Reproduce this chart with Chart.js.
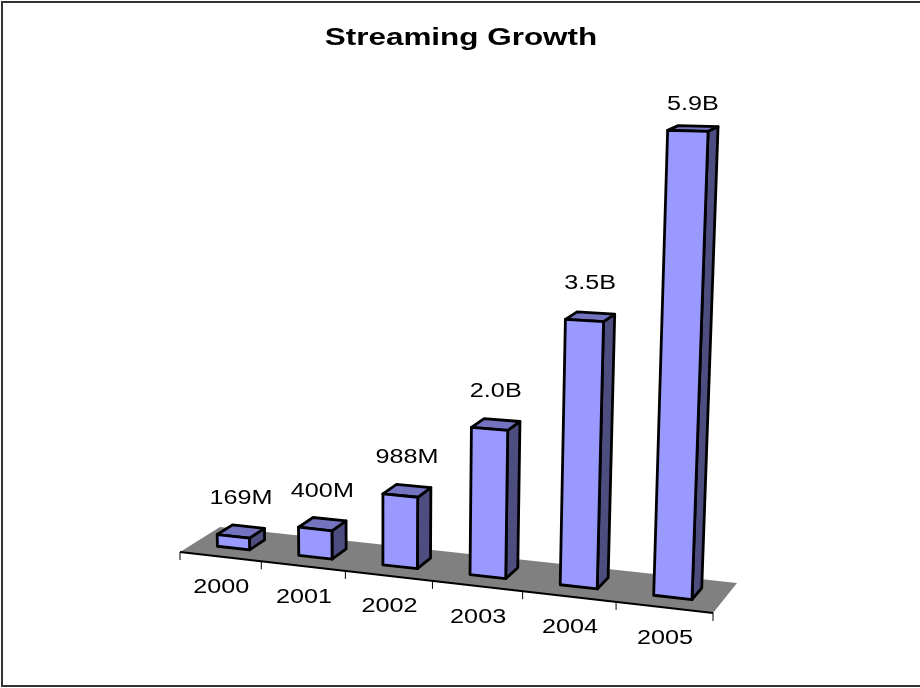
<!DOCTYPE html>
<html lang="en">
  <head>
    <meta charset="UTF-8">
    <title>Streaming Growth</title>
    <script src="https://cdn.jsdelivr.net/npm/chart.js@4"></script>
    <style>
      html, body { margin: 0; padding: 0; background: #fff; }
      #wrap { position: relative; width: 920px; height: 688px; }
    </style>
  </head>
  <body>
    <div id="wrap"><canvas id="chart"></canvas></div>
    <script type="text/javascript">
      const chartTitle = 'Streaming Growth'
      const years = ['2000', '2001', '2002', '2003', '2004', '2005']
      const streams = [169, 400, 988, 2000, 3500, 5900]
      const streamLabels = ['169M', '400M', '988M', '2.0B', '3.5B', '5.9B']

      // camera: floor corners on the canvas plus the point verticals converge to
      const floorFL = [180, 552], floorFR = [713, 613], floorBR = [737, 583], floorBL = [220, 527]
      const vanishX = 385, vanishY = 9537, rise = -0.0464
      const barFront = 0.33, barBack = 0.72

      const sx = floorFL[0] - floorFR[0] + floorBR[0] - floorBL[0]
      const sy = floorFL[1] - floorFR[1] + floorBR[1] - floorBL[1]
      const dx1 = floorFR[0] - floorBR[0], dx2 = floorBL[0] - floorBR[0]
      const dy1 = floorFR[1] - floorBR[1], dy2 = floorBL[1] - floorBR[1]
      const den = dx1 * dy2 - dx2 * dy1
      const g = (sx * dy2 - dx2 * sy) / den
      const h = (dx1 * sy - sx * dy1) / den

      // u: along the category axis, v: into the floor, z: up the value axis, all 0..1
      function project(u, v, z) {
        const a = floorFR[0] - floorFL[0] + g * floorFR[0]
        const b = floorBL[0] - floorFL[0] + h * floorBL[0]
        const d = floorFR[1] - floorFL[1] + g * floorFR[1]
        const e = floorBL[1] - floorFL[1] + h * floorBL[1]
        const w = g * u + h * v + 1 + z * rise
        return [
          (a * u + b * v + floorFL[0] + z * rise * vanishX) / w,
          (d * u + e * v + floorFL[1] + z * rise * vanishY) / w
        ]
      }

      function face(ctx, pts, fill) {
        ctx.beginPath()
        pts.forEach((p, i) => i ? ctx.lineTo(p[0], p[1]) : ctx.moveTo(p[0], p[1]))
        ctx.closePath()
        if (fill) {
          ctx.fillStyle = fill
          ctx.fill()
        }
        ctx.stroke()
      }

      // Excel-style text runs wide, so scale it horizontally around its centre
      function wideText(ctx, text, x, y, font, stretch) {
        ctx.save()
        ctx.translate(x, y)
        ctx.scale(stretch, 1)
        ctx.font = font
        ctx.fillStyle = '#000'
        ctx.textAlign = 'center'
        ctx.textBaseline = 'middle'
        ctx.fillText(text, 0, 0)
        ctx.restore()
      }

      const perspectiveBars = {
        id: 'perspectiveBars',
        beforeDatasetsDraw(chart) {
          const ctx = chart.ctx
          const xs = chart.scales.x
          const u = px => (px - xs.left) / xs.width

          ctx.save()
          ctx.fillStyle = '#808080'
          ctx.beginPath()
          ;[floorFL, floorFR, floorBR, floorBL].forEach(p => ctx.lineTo(p[0], p[1]))
          ctx.closePath()
          ctx.fill()

          ctx.strokeStyle = '#000'
          ctx.lineWidth = 2
          ctx.beginPath()
          ctx.moveTo(floorFL[0], floorFL[1])
          ctx.lineTo(floorFR[0], floorFR[1])
          ctx.stroke()

          ctx.lineWidth = 1
          for (let i = 0; i <= years.length; i++) {
            const p = project(u(xs.getPixelForValue(i - 0.5)), 0, 0)
            ctx.beginPath()
            ctx.moveTo(p[0], p[1])
            ctx.lineTo(p[0], p[1] + 8)
            ctx.stroke()
          }
          ctx.restore()
        },
        beforeDatasetDraw(chart, args) {
          const ctx = chart.ctx
          const xs = chart.scales.x
          const ys = chart.scales.y
          const ds = chart.data.datasets[args.index]
          ctx.save()
          ctx.lineWidth = 2.8
          ctx.lineJoin = 'round'
          ctx.strokeStyle = ds.borderColor
          args.meta.data.forEach((bar, i) => {
            const u0 = (bar.x - bar.width / 2 - xs.left) / xs.width
            const u1 = (bar.x + bar.width / 2 - xs.left) / xs.width
            const z = (bar.base - bar.y) / ys.height
            face(ctx, [project(u1, barFront, 0), project(u1, barBack, 0), project(u1, barBack, z), project(u1, barFront, z)], ds.sideColor)
            face(ctx, [project(u0, barFront, z), project(u1, barFront, z), project(u1, barBack, z), project(u0, barBack, z)], ds.topColor)
            face(ctx, [project(u0, barFront, 0), project(u1, barFront, 0), project(u1, barFront, z), project(u0, barFront, z)], ds.backgroundColor)

            // value label, kept clear of the title
            const top = project((u0 + u1) / 2, (barFront + barBack) / 2, z)
            wideText(ctx, streamLabels[i], top[0], Math.max(104, top[1] - 33), '20px "Liberation Sans"', 1.26)
          })
          ctx.restore()
          return false
        },
        afterDraw(chart) {
          const ctx = chart.ctx
          const xs = chart.scales.x
          years.forEach((year, i) => {
            const p = project((xs.getPixelForValue(i) - xs.left) / xs.width, 0, 0)
            wideText(ctx, year, p[0] + 1, p[1] + 31, '20px "Liberation Sans"', 1.26)
          })
          wideText(ctx, chart.options.plugins.title.text, 461, 38, 'bold 24px "Liberation Sans"', 1.31)

          ctx.save()
          ctx.strokeStyle = '#333'
          ctx.lineWidth = 2
          ctx.strokeRect(2, 2, 925, 684)
          ctx.restore()
        }
      }

      const ctx = document.getElementById('chart').getContext('2d')
      const chart = new Chart(ctx, {
        type: 'bar',
        data: {
          labels: years,
          datasets: [
            {
              label: 'Streams (millions)',
              data: streams,
              backgroundColor: '#9999ff',
              topColor: '#7373bf',
              sideColor: '#4d4d80',
              borderColor: '#000000',
              categoryPercentage: 1,
              barPercentage: 0.4
            }
          ]
        },
        options: {
          responsive: true,
          maintainAspectRatio: false,
          animation: false,
          layout: { padding: 0 },
          plugins: {
            legend: { display: false },
            tooltip: { enabled: false },
            title: { display: false, text: chartTitle }
          },
          scales: {
            x: { display: false },
            y: { display: false, min: 0, max: 6000 }
          }
        },
        plugins: [perspectiveBars]
      })
    </script>
  </body>
</html>
